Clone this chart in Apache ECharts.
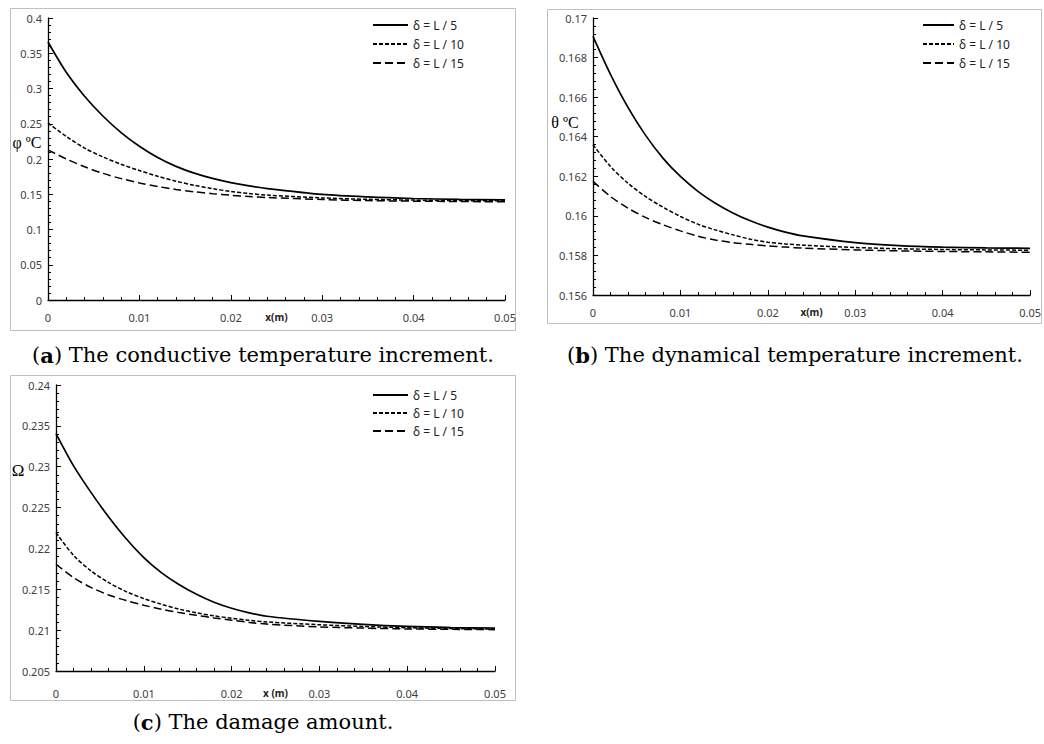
<!DOCTYPE html>
<html>
<head>
<meta charset="utf-8">
<script src="https://cdn.jsdelivr.net/npm/echarts@6/dist/echarts.min.js"></script>
<style>
    html, body { margin: 0; padding: 0; background: #fff; }
    #chart { width: 1044px; height: 744px; }
</style>
</head>
<body>
<div id="chart"></div>
<script>
// legend names, shared by all three panels
const names = ['δ = L / 5', 'δ = L / 10', 'δ = L / 15'];

const xs = [0, 0.002, 0.004, 0.006, 0.008, 0.01, 0.012, 0.014, 0.016, 0.018, 0.02, 0.022, 0.024, 0.03, 0.035, 0.04, 0.045, 0.05];

// (a) conductive temperature increment
const phiL5  = [0.366, 0.323, 0.289, 0.261, 0.2375, 0.218, 0.202, 0.1895, 0.180, 0.1725, 0.1665, 0.1618, 0.158, 0.1498, 0.1462, 0.144, 0.1427, 0.142];
const phiL10 = [0.251, 0.232, 0.2155, 0.203, 0.1925, 0.1836, 0.1755, 0.1685, 0.1627, 0.1579, 0.154, 0.151, 0.1488, 0.1448, 0.1428, 0.1417, 0.141, 0.1406];
const phiL15 = [0.213, 0.200, 0.189, 0.1797, 0.1722, 0.1661, 0.161, 0.1568, 0.1535, 0.1508, 0.1486, 0.1468, 0.1454, 0.1425, 0.141, 0.1402, 0.1397, 0.1393];

// (b) dynamical temperature increment
const thL5  = [0.16907, 0.16715, 0.16548, 0.16408, 0.16292, 0.16199, 0.16124, 0.16064, 0.16015, 0.15975, 0.15943, 0.15918, 0.15899, 0.15865, 0.1585, 0.15842, 0.15838, 0.15836];
const thL10 = [0.16359, 0.1625, 0.16165, 0.16098, 0.16044, 0.15997, 0.15958, 0.15929, 0.15904, 0.15882, 0.15867, 0.15858, 0.15852, 0.1584, 0.15834, 0.1583, 0.15828, 0.15826];
const thL15 = [0.16174, 0.16098, 0.16039, 0.15992, 0.15955, 0.15924, 0.15897, 0.15878, 0.15865, 0.15856, 0.15848, 0.15842, 0.15837, 0.15828, 0.15823, 0.1582, 0.15818, 0.15816];

// (c) damage amount
const omL5  = [0.23405, 0.2301, 0.22683, 0.22385, 0.22118, 0.21888, 0.21704, 0.21558, 0.21439, 0.21342, 0.21268, 0.21212, 0.2117, 0.21107, 0.2107, 0.21045, 0.21032, 0.21026];
const omL10 = [0.22193, 0.21915, 0.21724, 0.21582, 0.21472, 0.21386, 0.21317, 0.21258, 0.21212, 0.21175, 0.21145, 0.2112, 0.211, 0.21066, 0.21045, 0.2103, 0.2102, 0.21014];
const omL15 = [0.21806, 0.21643, 0.21521, 0.21431, 0.21362, 0.21305, 0.21255, 0.21215, 0.21182, 0.2115, 0.21121, 0.21095, 0.21074, 0.2104, 0.21025, 0.21015, 0.2101, 0.21006];

const xTicks = { min: 0, max: 0.05, interval: 0.01 };
const yTicksA = { min: 0, max: 0.4, interval: 0.05 };
const yTicksB = { min: 0.156, max: 0.17, interval: 0.002 };
const yTicksC = { min: 0.205, max: 0.24, interval: 0.005 };

const dashes = ['solid', [4, 2], [8, 4]];
const labelFont = 'Noto Sans';

function pairs(ys) {
    return xs.map((x, i) => [x, ys[i]]);
}

function makeSeries(idx, list) {
    return list.map((ys, k) => ({
        name: names[k],
        type: 'line',
        xAxisIndex: idx,
        yAxisIndex: idx,
        symbol: 'none',
        smooth: 0.3,
        silent: true,
        lineStyle: { color: '#000', width: k === 0 ? 1.7 : 1.5, type: dashes[k] },
        itemStyle: { color: '#000' },
        data: pairs(ys)
    }));
}

function xAxis(idx, gap, name) {
    return {
        type: 'value', gridIndex: idx, ...xTicks,
        name: name, nameLocation: 'middle', nameGap: gap, nameMoveOverlap: false,
        nameTextStyle: { fontFamily: labelFont, fontSize: 10, fontWeight: 'bold', color: '#222' },
        axisLine: { onZero: false, lineStyle: { color: '#000', width: 1.3 } },
        axisTick: { inside: true, length: 5, lineStyle: { color: '#000' } },
        minorTick: { show: true, splitNumber: 5, length: 3, lineStyle: { color: '#000' } },
        splitLine: { show: false },
        axisLabel: { margin: gap, fontFamily: labelFont, fontSize: 11, color: '#404040' }
    };
}

function yAxis(idx, ticks) {
    return {
        type: 'value', gridIndex: idx, ...ticks,
        axisLine: { show: true, onZero: false, lineStyle: { color: '#000', width: 1.3 } },
        axisTick: { show: true, inside: true, length: 5, lineStyle: { color: '#000' } },
        minorTick: { show: true, splitNumber: 5, length: 3, lineStyle: { color: '#000' } },
        splitLine: { show: false },
        axisLabel: { margin: 6, fontFamily: labelFont, fontSize: 11, color: '#404040' }
    };
}

function legend(left, top, width, gap, textGap) {
    return {
        data: names, orient: 'vertical', left: left, top: top, padding: 0,
        itemWidth: width, itemHeight: 12, itemGap: gap, itemTextGap: textGap,
        selectedMode: false,
        // hide the marker the line legend draws on top of the line
        itemStyle: { color: 'rgba(0,0,0,0)', borderWidth: 0, opacity: 0 },
        textStyle: { fontFamily: labelFont, fontSize: 12, color: '#222' }
    };
}

function box(x, y, w, h) {
    return { type: 'rect', shape: { x: x, y: y, width: w, height: h }, style: { fill: 'none', stroke: '#c0c0c0', lineWidth: 1 }, silent: true };
}

function label(x, y, text, size) {
    return { type: 'text', x: x, y: y, silent: true,
        style: { text: text, fontFamily: 'Liberation Serif', fontSize: size, fill: '#000', align: 'center', verticalAlign: 'middle' } };
}

function caption(x, y, letter, text) {
    return { type: 'text', x: x, y: y, silent: true,
        style: { text: '({b|' + letter + '}) ' + text, fontFamily: 'DejaVu Serif', fontSize: 21, fill: '#000',
            align: 'center', verticalAlign: 'middle',
            rich: { b: { fontFamily: 'DejaVu Serif', fontSize: 21, fontWeight: 'bold' } } } };
}

let chart = echarts.init(document.getElementById('chart'), null, { renderer: 'svg' });

let option = {
    animation: false,
    backgroundColor: '#fff',
    grid: [
        { left: 48, top: 18, width: 457, height: 282 },
        { left: 593, top: 18, width: 438, height: 277 },
        { left: 56, top: 385, width: 439, height: 286 }
    ],
    xAxis: [xAxis(0, 12, 'x(m)'), xAxis(1, 12, 'x(m)'), xAxis(2, 17, 'x (m)')],
    yAxis: [yAxis(0, yTicksA), yAxis(1, yTicksB), yAxis(2, yTicksC)],
    legend: [legend(372, 19, 35, 7, 9), legend(922, 19, 31, 7, 3), legend(372, 389, 35, 6, 6)],
    series: [
        ...makeSeries(0, [phiL5, phiL10, phiL15]),
        ...makeSeries(1, [thL5, thL10, thL15]),
        ...makeSeries(2, [omL5, omL10, omL15])
    ],
    graphic: [
        box(10.5, 8.5, 505, 322),
        box(547.5, 9.5, 494, 314),
        box(10.5, 375.5, 505, 325),
        label(27, 142, 'φ ºC', 16),
        label(565, 122, 'θ ºC', 16),
        label(18, 470, 'Ω', 17),
        caption(263, 355, 'a', 'The conductive temperature increment.'),
        caption(795, 355, 'b', 'The dynamical temperature increment.'),
        caption(263, 722, 'c', 'The damage amount.')
    ]
};

chart.setOption(option);
</script>
</body>
</html>
